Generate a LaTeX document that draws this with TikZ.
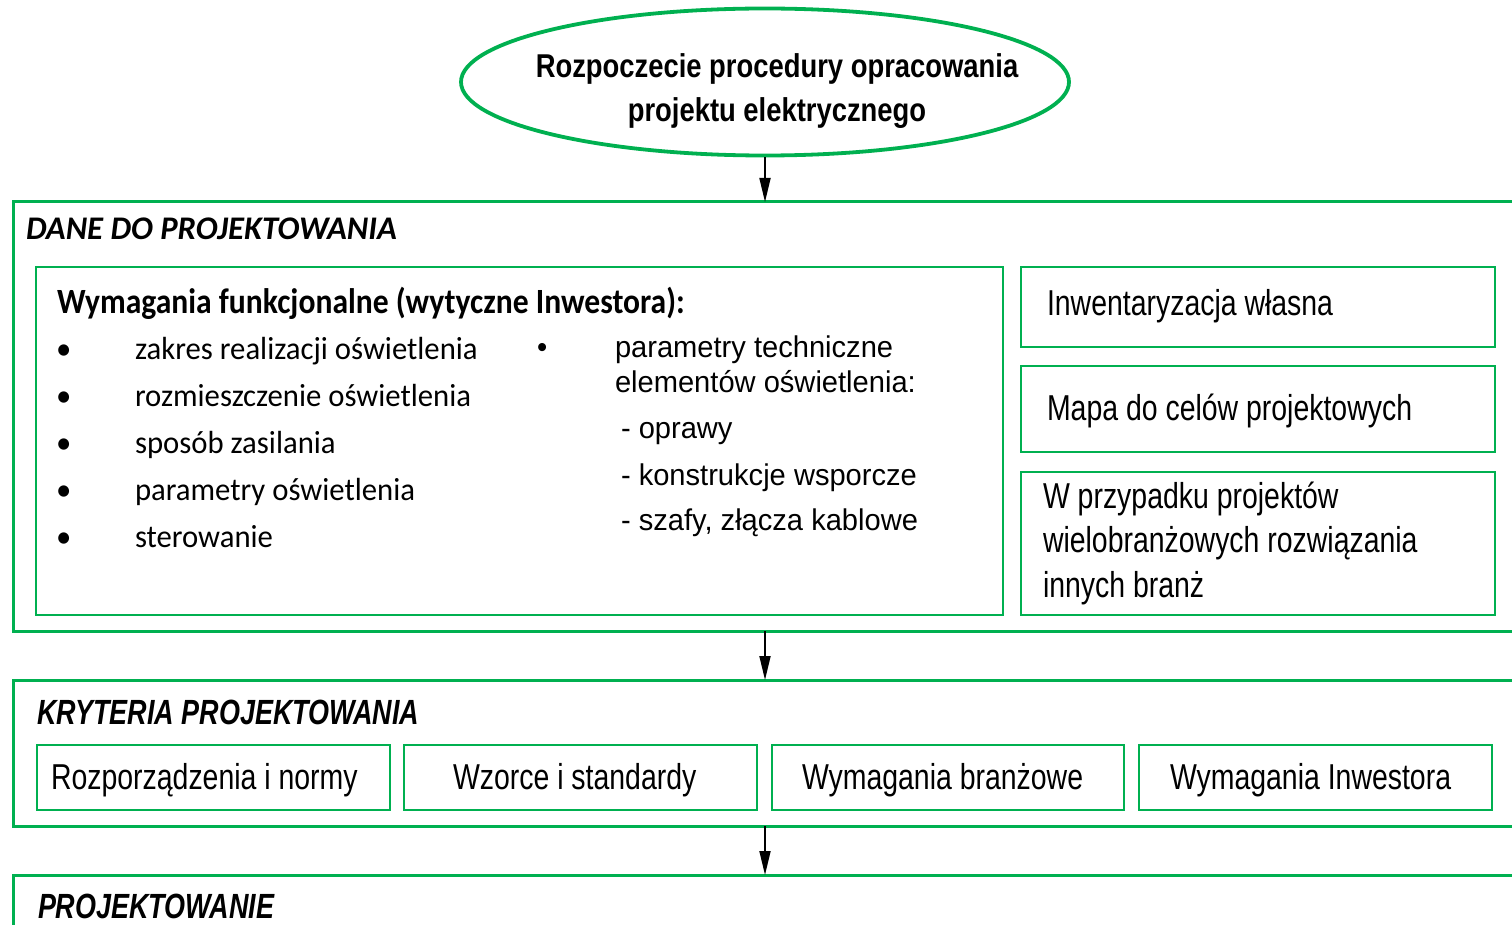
\documentclass[tikz,border=0pt]{standalone}
\usepackage{fontspec}
\usetikzlibrary{shapes.geometric,arrows.meta}
\setmainfont{Liberation Sans}
% text faces
\newfontfamily\listfont[FakeStretch=0.96]{Carlito}
\newfontfamily\headfont[FakeStretch=0.89]{Carlito}
\newfontfamily\titlefont[FakeStretch=0.99]{Carlito}
\newfontfamily\boxfont[FakeStretch=0.79]{Liberation Sans}
\newfontfamily\colfont[FakeStretch=0.97]{Liberation Sans}
\newfontfamily\startfont[FakeStretch=0.83]{Liberation Sans}
\newfontfamily\stagefont[FakeStretch=0.77]{Liberation Sans}
\definecolor{frame}{HTML}{00B050}

\tikzset{
  stagebox/.style={draw=frame, line width=3pt, rectangle, inner sep=0pt, outer sep=0pt, anchor=north west},
  itembox/.style={draw=frame, line width=2pt, rectangle, inner sep=0pt, outer sep=0pt, anchor=north west},
  txt/.style={inner sep=0pt, outer sep=0pt, anchor=base west},
  stagetitle/.style={txt, font=\stagefont\fontsize{35}{40}\selectfont\bfseries\itshape},
  listtxt/.style={txt, font=\listfont\fontsize{32}{38}\selectfont},
  coltxt/.style={txt, font=\colfont\fontsize{30}{35}\selectfont},
  boxtxt/.style={txt, font=\boxfont\fontsize{36}{44.5}\selectfont},
  flow/.style={-{Triangle[length=24pt,width=11pt]}, line width=1.8pt, draw=black}
}

\begin{document}
\begin{tikzpicture}[x=1pt,y=-1pt]
\useasboundingbox (0,0) rectangle (1512,925);
\clip (0,0) rectangle (1512,925);
\fill[white] (0,0) rectangle (1512,925);

% start of the procedure
\node[draw=frame, line width=3.8pt, ellipse, inner sep=0pt,
      minimum width=608pt, minimum height=147pt] (start) at (765,82) {};
\node[inner sep=0pt, align=center,
      font=\startfont\fontsize{33}{44}\selectfont\bfseries] (starttxt) at (777,91)
  {Rozpoczecie procedury opracowania\\projektu elektrycznego};

% stage frames
\node[stagebox, minimum width=1540pt, minimum height=429pt] (dane) at (13,202) {};
\node[stagebox, minimum width=1540pt, minimum height=146pt] (kryt) at (13,680) {};
\node[stagebox, minimum width=1540pt, minimum height=200pt] (proj) at (13,875) {};

% flow between stages
\draw[flow] (start.south) -- (start.south |- dane.north);
\draw[flow] (start.south |- dane.south) -- (start.south |- kryt.north);
\draw[flow] (start.south |- kryt.south) -- (start.south |- proj.north);

% DANE DO PROJEKTOWANIA
\node[txt, font=\titlefont\fontsize{33}{40}\selectfont\bfseries\itshape] (danetitle) at (26,240) {DANE DO PROJEKTOWANIA};
\node[itembox, minimum width=967pt, minimum height=348pt] (func) at (36,267) {};
\node[txt, font=\headfont\fontsize{35.5}{40}\selectfont\bfseries] (functitle) at (57,313) {Wymagania funkcjonalne (wytyczne Inwestora):};

\foreach \t [count=\i] in {zakres realizacji oświetlenia, rozmieszczenie oświetlenia,
    sposób zasilania, parametry oświetlenia, sterowanie} {
  \node[listtxt] (fb\i) at (56,{312+47*\i}) {•};
  \node[listtxt] (fl\i) at (135,{312+47*\i}) {\t};
}

\node[coltxt] (tb) at (537,357) {•};
\node[coltxt] (t1) at (615,357) {parametry techniczne};
\node[coltxt] (t2) at (615,392) {elementów oświetlenia:};
\node[coltxt] (t3) at (621,438) {- oprawy};
\node[coltxt] (t4) at (621,485) {- konstrukcje wsporcze};
\node[coltxt] (t5) at (621,530) {- szafy, złącza kablowe};

\node[itembox, minimum width=474pt, minimum height=80pt] (inw) at (1021,267) {};
\node[boxtxt] (inwtxt) at (1047,316) {Inwentaryzacja własna};
\node[itembox, minimum width=474pt, minimum height=86pt] (mapa) at (1021,366) {};
\node[boxtxt] (mapatxt) at (1047,420) {Mapa do celów projektowych};
\node[itembox, minimum width=474pt, minimum height=143pt] (inne) at (1021,472) {};
\node[boxtxt] (inne1) at (1043,508) {W przypadku projektów};
\node[boxtxt] (inne2) at (1043,552) {wielobranżowych rozwiązania};
\node[boxtxt] (inne3) at (1043,597) {innych branż};

% KRYTERIA PROJEKTOWANIA
\node[stagetitle] (krytitle) at (37,724) {KRYTERIA PROJEKTOWANIA};
\node[itembox, minimum width=353pt, minimum height=65pt] (k1) at (37,745) {};
\node[itembox, minimum width=353pt, minimum height=65pt] (k2) at (404,745) {};
\node[itembox, minimum width=352pt, minimum height=65pt] (k3) at (772,745) {};
\node[itembox, minimum width=353pt, minimum height=65pt] (k4) at (1139,745) {};
\node[boxtxt] (k1txt) at (51,789) {Rozporządzenia i normy};
\node[boxtxt] (k2txt) at (453,789) {Wzorce i standardy};
\node[boxtxt] (k3txt) at (802,789) {Wymagania branżowe};
\node[boxtxt] (k4txt) at (1170,789) {Wymagania Inwestora};

% PROJEKTOWANIE
\node[stagetitle] (projtitle) at (38,918) {PROJEKTOWANIE};
\end{tikzpicture}
\end{document}
